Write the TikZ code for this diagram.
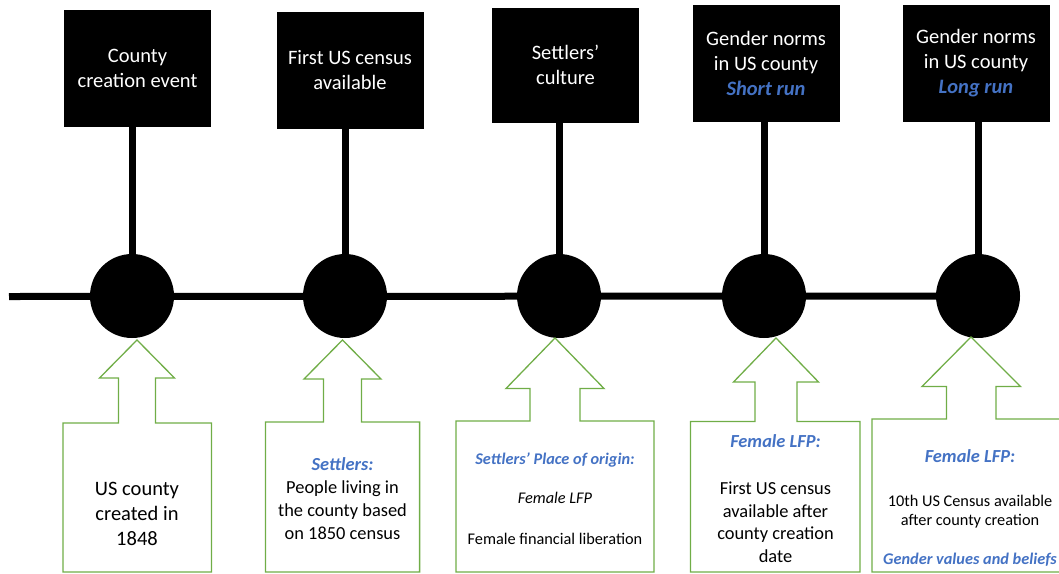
\documentclass[tikz,border=0pt]{standalone}
\usepackage{fontspec}
\setmainfont{Carlito}
\definecolor{blu}{HTML}{4472C4}
\definecolor{grn}{HTML}{70AD47}
\newcommand\hlt[1]{\textcolor{blu}{\bfseries\itshape #1}}
\newcommand\garrow[8]{%
  \draw[garr] (#1,#2) -- (#1+#4,#3) -- (#1+#5,#3) -- (#1+#5,#8) -- (#7,#8) -- (#7,572) -- (#6,572) -- (#6,#8) -- (#1-#5,#8) -- (#1-#5,#3) -- (#1-#4,#3) -- cycle;}
\tikzset{
  evbox/.style={fill=black, draw=black, minimum width=146pt, minimum height=116pt, inner sep=0pt,
                text=white, align=center, font=\fontsize{20.5}{25}\selectfont},
  dot/.style={circle, fill=black, minimum size=84pt, inner sep=0pt},
  stem/.style={line width=7pt},
  tline/.style={line width=7pt},
  garr/.style={draw=grn, line width=1.3pt, line join=miter},
  lbl/.style={anchor=base, inner sep=0pt},
  big/.style={lbl, font=\fontsize{20.5}{25}\selectfont},
  med/.style={lbl, font=\fontsize{18.4}{23}\selectfont},
  sml/.style={lbl, font=\fontsize{16.3}{20}\selectfont}
}
\begin{document}
\begin{tikzpicture}[x=1pt, y=-1pt]
\useasboundingbox (0,0) rectangle (1059,573);
% top boxes
\node[evbox] (b1) at (137.5,68.5) {County\\creation event};
\node[evbox] (b2) at (350,70) {First US census\\available};
\node[evbox, minimum height=114pt] (b3) at (565.5,65) {Settlers’\\culture};
\node[evbox] (b4) at (766,63) {Gender norms\\in US county\\\hlt{Short run}};
\node[evbox] (b5) at (976,63) {Gender norms\\in US county\\\hlt{Long run}};
% circle positions
\coordinate (p1) at (132,296);
\coordinate (p2) at (345,296);
\coordinate (p3) at (559,296);
\coordinate (p4) at (764,296);
\coordinate (p5) at (978,296);
\coordinate (tl) at (9,296.5);
% timeline and stems
\draw[tline] (tl) -- (p5);
\draw[stem] (p1) -- (p1 |- b1.south);
\draw[stem] (p2) -- (p2 |- b2.south);
\draw[stem] (p3) -- (p3 |- b3.south);
\draw[stem] (p4) -- (p4 |- b4.south);
\draw[stem] (p5) -- (p5 |- b5.south);
% circles
\node[dot] (c1) at (p1) {};
\node[dot] (c2) at (p2) {};
\node[dot] (c3) at (p3) {};
\node[dot] (c4) at (p4) {};
\node[dot] (c5) at (p5) {};
% green block arrows
\garrow{137}{340}{378}{37.5}{18.5}{63}{211.5}{423}
\garrow{342.5}{340}{379}{38.5}{19}{265.5}{419.6}{422}
\garrow{555}{338}{388.5}{49}{25}{456}{654}{421}
\garrow{776}{338}{382}{42.5}{21}{690.5}{860}{421.5}
\draw[garr] (1061,572) -- (872,572) -- (872,419) -- (946.5,419) -- (946.5,386.5) -- (922,386.5) -- (971,337) -- (1020.5,386.5) -- (996,386.5) -- (996,419) -- (1061,419);
% bottom texts
\node[big] (t1a) at (137,495) {US county};
\node[big] (t1b) at (137,520) {created in};
\node[big] (t1c) at (137,545) {1848};
\node[med] (t2a) at (342.5,470.5) {\hlt{Settlers:}};
\node[med] (t2b) at (342.5,493.5) {People living in};
\node[med] (t2c) at (342.5,516.5) {the county based};
\node[med] (t2d) at (342.5,539.5) {on 1850 census};
\node[sml] (t3a) at (555,464) {\hlt{Settlers’ Place of origin:}};
\node[sml] (t3b) at (555,503.5) {\itshape Female LFP};
\node[sml] (t3c) at (555,544) {Female financial liberation};
\node[med] (t4a) at (775.5,447.5) {\hlt{Female LFP:}};
\node[med] (t4b) at (775.5,494) {First US census};
\node[med] (t4c) at (775.5,517) {available after};
\node[med] (t4d) at (775.5,539.5) {county creation};
\node[med] (t4e) at (775.5,562) {date};
\node[med] (t5a) at (970,462.5) {\hlt{Female LFP:}};
\node[sml] (t5b) at (970,506) {10th US Census available};
\node[sml] (t5c) at (970,525.5) {after county creation};
\node[sml] (t5d) at (970,564) {\hlt{Gender values and beliefs}};
\end{tikzpicture}
\end{document}
